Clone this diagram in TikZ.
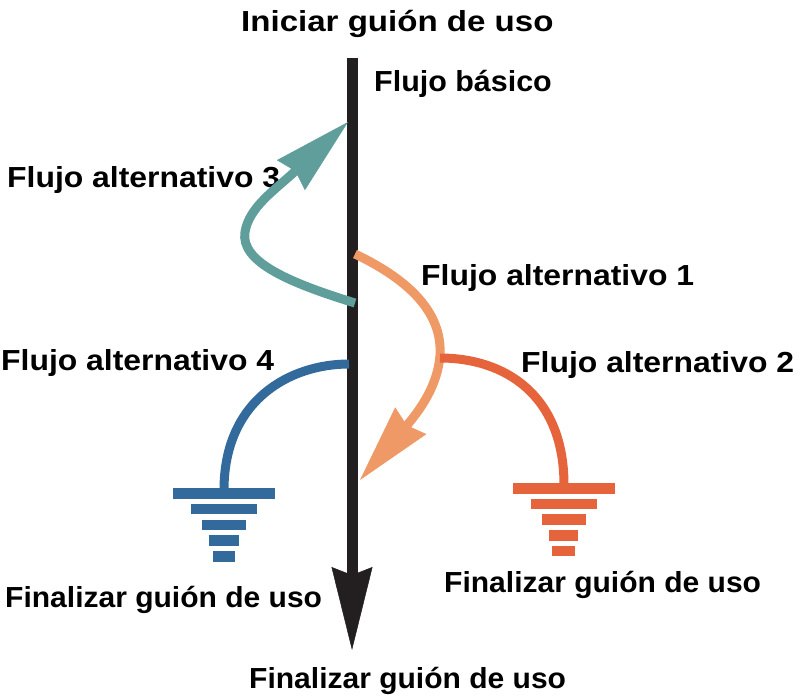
\documentclass[tikz,border=0pt]{standalone}
\usepackage{fontspec}
\usepackage{tikz}
\usetikzlibrary{arrows.meta}
\newfontfamily\rotulofont{Liberation Sans}
\definecolor{flujonegro}{HTML}{231F20}
\definecolor{flujoverde}{HTML}{5F9E9A}
\definecolor{flujosalmon}{HTML}{EE9966}
\definecolor{flujorojo}{HTML}{E6643C}
\definecolor{flujoazul}{HTML}{336A9C}

\begin{document}
\begin{tikzpicture}[%
	x=1pt, y=-1pt,
	rotulo/.style = {font={\rotulofont\bfseries\fontsize{29}{34}\selectfont\addfontfeature{FakeStretch=#1}}, inner sep=0pt, anchor=base west},
	rotulo/.default = 1.1,
	lineabasica/.style = {line width=11pt, flujonegro, -{Stealth[length=83pt, width=41pt, inset=8pt, line width=0.5pt]}},
	alterno/.style = {line width=9pt, -{Stealth[length=78pt, width=41pt, inset=6pt, line width=0.5pt]}},
	hastafin/.style = {line width=9pt}
	]
  \useasboundingbox (0,0) rectangle (802,698);
  % textos
  \node [rotulo=1.14] (inicio) at (241,32) {Iniciar guión de uso};
  \node [rotulo=1.05] (basico) at (374,92) {Flujo básico};
  \node [rotulo] (alt3) at (7,187) {Flujo alternativo 3};
  \node [rotulo] (alt1) at (421,285) {Flujo alternativo 1};
  \node [rotulo] (alt4) at (1,370) {Flujo alternativo 4};
  \node [rotulo] (alt2) at (521,372) {Flujo alternativo 2};
  \node [rotulo=1.035] (fin4) at (5,607) {Finalizar guión de uso};
  \node [rotulo=1.035] (fin2) at (444,592) {Finalizar guión de uso};
  \node [rotulo=1.035] (finbasico) at (249,688) {Finalizar guión de uso};
  % puntos de los flujos
  \coordinate (arriba) at (352,58);
  \coordinate (abajo) at (352,650);
  \coordinate (sale3) at (355,303);
  \coordinate (entra3) at (348,122);
  \coordinate (sale1) at (355,254);
  \coordinate (entra1) at (360,480);
  \coordinate (sale2) at (440,358);
  \coordinate (tierra2) at (564,485);
  \coordinate (sale4) at (349,364);
  \coordinate (tierra4) at (224,490);
  % flujo basico
  \draw [lineabasica] (arriba) -- (abajo);
  % flujos alternativos
  \draw [alterno, flujoverde] (sale3) .. controls (290,283) and (240,262) .. (245,232)
  	.. controls (249,207) and (275,190) .. (entra3);
  \draw [alterno, flujosalmon] (sale1) .. controls (420,285) and (442,320) .. (440,355)
  	.. controls (438,385) and (420,410) .. (entra1);
  \draw [hastafin, flujorojo] (sale2) .. controls (505,358) and (564,395) .. (tierra2);
  \draw [hastafin, flujoazul] (sale4) .. controls (290,364) and (224,400) .. (tierra4);
  % fin de los flujos 4 y 2
  \fill [flujoazul] (173,488) rectangle (275,499);
  \fill [flujoazul] (191,504) rectangle (257,514);
  \fill [flujoazul] (202,520) rectangle (246,530);
  \fill [flujoazul] (209,535) rectangle (239,546);
  \fill [flujoazul] (213,551) rectangle (235,562);
  \fill [flujorojo] (513,483) rectangle (615,494);
  \fill [flujorojo] (531,499) rectangle (597,509);
  \fill [flujorojo] (542,514) rectangle (586,525);
  \fill [flujorojo] (549,530) rectangle (578,541);
  \fill [flujorojo] (552,546) rectangle (575,556);
\end{tikzpicture}
\end{document}
